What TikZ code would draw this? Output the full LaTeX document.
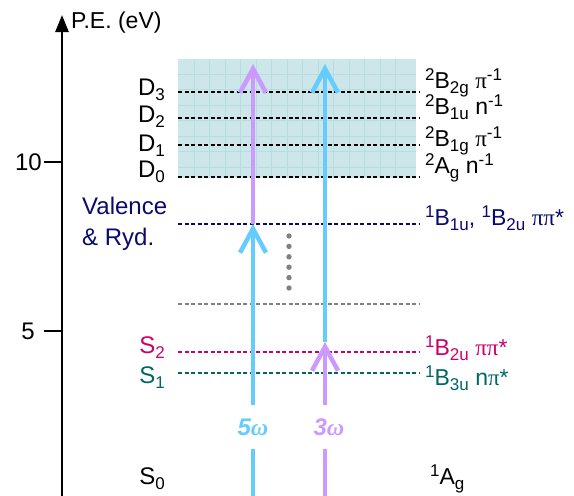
\documentclass[tikz,border=0pt]{standalone}
\usepackage{fontspec}
\setmainfont{Liberation Sans}
\newfontfamily\grk{Liberation Serif}
\usetikzlibrary{arrows.meta,positioning}

\definecolor{pblue}{HTML}{66CCFF}
\definecolor{ppurple}{HTML}{CC99FF}
\definecolor{rydnavy}{HTML}{0A0A6E}
\definecolor{stwo}{HTML}{CC0066}
\definecolor{sone}{HTML}{006666}
\definecolor{ionfill}{HTML}{CCE6E9}
\definecolor{iongrid}{HTML}{B6DEE1}

\newcommand{\lsub}[1]{\raisebox{-0.42ex}{\fontsize{17}{17}\selectfont #1}}
\newcommand{\lsup}[1]{\raisebox{0.62ex}{\fontsize{17}{17}\selectfont #1}}
\newcommand{\gpi}{{\grk π}}
\newcommand{\gomega}{{\grk\bfseries\itshape ω}}

\begin{document}
\begin{tikzpicture}[x=1pt,y=-1pt,
                    font=\fontsize{24}{31}\selectfont,
                    level/.style={line width=1.2pt, dash pattern=on 4pt off 2.5pt},
                    shaft/.style={line width=4.5pt},
                    photon/.style={shaft, -{Straight Barb[length=24pt,width=26pt]}},
                    lbl/.style={inner sep=0pt, anchor=base east},
                    rlbl/.style={inner sep=0pt, anchor=base west, font=\fontsize{23}{26}\selectfont},
                    wlbl/.style={inner sep=0pt, minimum height=43pt, font=\fontsize{24}{26}\selectfont\bfseries\itshape}]
  \useasboundingbox (0,0) rectangle (574,496);

  % Ionization band
  \fill[ionfill] (178,59) rectangle (416,178);
  \foreach \gx in {194,209.5,...,410} \draw[iongrid, line width=0.8pt] (\gx,59) -- (\gx,178);
  \foreach \gy in {74,89.5,...,175} \draw[iongrid, line width=0.8pt] (178,\gy) -- (416,\gy);

  % Levels
  \foreach \ly in {92,118,145,177} \draw[level, black] (178,\ly) -- (420,\ly);
  \draw[level, rydnavy] (178,224) -- (420,224);
  \draw[level, gray] (178,304) -- (420,304);
  \draw[level, stwo] (178,352) -- (420,352);
  \draw[level, sone] (178,373) -- (420,373);
  \foreach \k in {0,...,5} \fill[gray] (289,236+10.4*\k) circle (2.7pt);

  % Axis
  \coordinate (axbot) at (62,496);
  \coordinate (axtop) at (62,15);
  \coordinate (tick10) at (62,162);
  \coordinate (tick5) at (62,331);
  \draw[line width=2.6pt, -{Triangle[length=17pt,width=13pt]}] (axbot) -- (axtop);
  \node[anchor=west, inner sep=0pt, font=\fontsize{23}{24}\selectfont] (pe) at (71,23) {P.E. (eV)};
  \node[anchor=east, inner sep=2pt] (t10) at (44,162) {10};
  \node[anchor=east, inner xsep=9pt, inner ysep=0pt] (t5) at (44,331) {5};
  \draw[line width=1.2pt] (t10) -- (tick10);
  \draw[line width=1.2pt] (t5) -- (tick5);

  % Nodes
  \node[lbl] (d3) at (165,95) {D\lsub{3}};
  \node[lbl] (d2) at (165,122) {D\lsub{2}};
  \node[lbl] (d1) at (165,151) {D\lsub{1}};
  \node[lbl] (d0) at (165,177) {D\lsub{0}};
  \node[inner sep=0pt, anchor=base west, align=left, text=rydnavy] (ryd) at (82,245) {Valence\\\& Ryd.};
  \node[lbl, text=stwo] (s2) at (165,353) {S\lsub{2}};
  \node[lbl, text=sone] (s1) at (165,383) {S\lsub{1}};
  \node[lbl] (s0) at (165,484) {S\lsub{0}};

  \node[rlbl] (d3r) at (425,88) {\lsup{2}B\lsub{2g} \gpi\lsup{-1}};
  \node[rlbl] (d2r) at (425,114) {\lsup{2}B\lsub{1u} n\lsup{-1}};
  \node[rlbl] (d1r) at (425,146) {\lsup{2}B\lsub{1g} \gpi\lsup{-1}};
  \node[rlbl] (d0r) at (425,173) {\lsup{2}A\lsub{g} n\lsup{-1}};
  \node[rlbl, text=rydnavy] (rydr) at (425,225) {\lsup{1}B\lsub{1u}, \lsup{1}B\lsub{2u} \gpi\gpi*};
  \node[rlbl, text=stwo] (s2r) at (425,355) {\lsup{1}B\lsub{2u} \gpi\gpi*};
  \node[rlbl, text=sone] (s1r) at (425,385) {\lsup{1}B\lsub{3u} n\gpi*};
  \node[rlbl] (s0r) at (430,484) {\lsup{1}A\lsub{g}};

  % Edges
  \coordinate (p5bot) at (253,496);
  \coordinate (p5mid) at (253,224);
  \coordinate (p5top) at (253,64);
  \coordinate (p3bot) at (325,496);
  \coordinate (p3mid) at (325,342);
  \coordinate (p3top) at (325,64);
  \node[wlbl, text=pblue] (w5) at (253,427) {5\gomega};
  \node[wlbl, text=ppurple] (w3) at (329,427) {3\gomega};

  \draw[photon, ppurple] (p5mid) -- (p5top);
  \draw[shaft, pblue] (p5bot) -- (p5bot |- w5.south);
  \draw[photon, pblue] (p5bot |- w5.north) -- (p5mid);

  \draw[photon, pblue] (p3mid) -- (p3top);
  \draw[shaft, ppurple] (p3bot) -- (p3bot |- w3.south);
  \draw[photon, ppurple] (p3bot |- w3.north) -- (p3mid);
\end{tikzpicture}
\end{document}
